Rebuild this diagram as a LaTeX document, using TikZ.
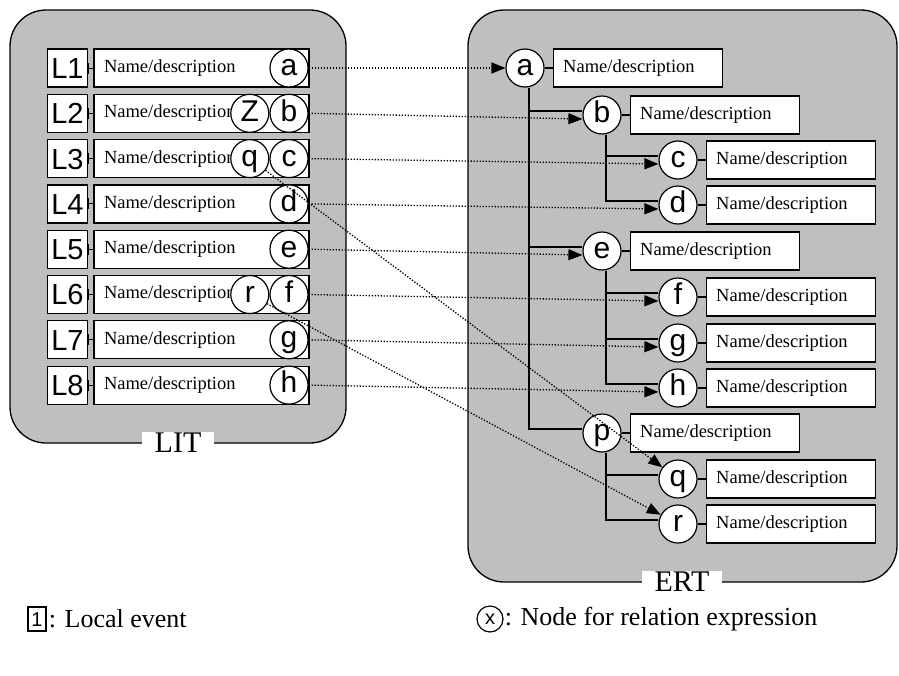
\documentclass[tikz,border=0pt]{standalone}
\usepackage{fontspec}
\setmainfont{Liberation Serif}
\newfontfamily\arialfont{Liberation Sans}
\usetikzlibrary{arrows.meta,positioning}

\begin{document}
\begin{tikzpicture}[
                x=1pt, y=-1pt,
                >={Triangle[length=14pt,width=11pt]},
                panel/.style={draw, line width=1.3pt, fill=black!25, rounded corners=36pt},
                paneltitle/.style={fill=white, inner xsep=13pt, inner ysep=1pt,
                    font=\fontsize{30}{30}\selectfont},
                evbox/.style={draw, line width=1.2pt, fill=white, inner sep=0pt,
                    minimum width=40pt, minimum height=38pt,
                    text height=20.8pt, text depth=0pt,
                    font=\arialfont\fontsize{29}{29}\selectfont},
                descbox/.style={draw, line width=1.2pt, fill=white, inner ysep=0pt,
                    inner xsep=10pt, minimum height=38pt, align=left,
                    font=\fontsize{18.5}{18.5}\selectfont},
                relnode/.style={circle, draw, line width=1.2pt, fill=white, inner sep=0pt,
                    minimum size=38pt, text height=15.6pt, text depth=0pt,
                    font=\arialfont\fontsize{30}{30}\selectfont},
                tick/.style={{Bar[width=11pt]}-, line width=1pt},
                tree/.style={line width=1.2pt},
                link/.style={->, line width=1.3pt, dash pattern=on 1.3pt off 1.7pt}
            ]

            \useasboundingbox (0,0) rectangle (899,675);

            % the two panels
            \draw[panel] (10,10) rectangle (346,443);
            \draw[panel] (468,10) rectangle (897,582);
            \node[paneltitle] (lit) at (178,443) {LIT};
            \node[paneltitle] (ert) at (682,582) {ERT};

            % LIT rows
            \foreach \i/\rel in {1/a,2/b,3/c,4/d,5/e,6/f,7/g,8/h} {
                \pgfmathsetmacro\yy{68+45.3*(\i-1)}
                \node[evbox] (ev\i) at (67.5,\yy) {L\i};
                \node[descbox, text width=195pt] (dsc\i) at (201.5,\yy) {Name/description};
                \draw[tick] (ev\i.east) -- (dsc\i.west);
                \node[relnode] (l\rel) at (289,\yy) {\rel};
            }
            \node[relnode, left=0pt of lb] (lz) {Z};
            \node[relnode, left=0pt of lc] (lq) {q};
            \node[relnode, left=0pt of lf] (lr) {r};

            % ERT tree
            \foreach \rel/\xx/\yy in {a/525/68, b/602/115, c/678/160, d/678/205,
                e/602/251, f/678/297, g/678/343, h/678/388,
                p/602/433, q/678/479, r/678/524} {
                \node[relnode] (r\rel) at (\xx,\yy) {\rel};
                \node[descbox, text width=149pt, right=8pt of r\rel] (rd\rel) {Name/description};
                \draw[tree] (r\rel) -- (rd\rel);
            }
            \foreach \up/\kids in {a/{b,e,p}, b/{c,d}, e/{f,g,h}, p/{q,r}} {
                \foreach \kid in \kids {
                    \draw[tree] ([xshift=4pt]r\up.south) |- ([yshift=4pt]r\kid.west);
                }
            }

            % LIT -> ERT
            \foreach \rel/\dy in {a/0, b/4, c/4, d/4, e/4, f/4, g/4, h/4} {
                \draw[link] (l\rel.east) -- ([yshift=-\dy pt]r\rel.west);
            }
            \draw[link] (lq) -- (rq);
            \draw[link] (lr) -- (rr);

            % legend
            \node[evbox, minimum width=18pt, minimum height=24pt, text height=14.3pt,
                font=\arialfont\fontsize{20}{20}\selectfont] (keyev) at (37,619) {1};
            \node[anchor=west, inner sep=2pt, font=\fontsize{26}{26}\selectfont]
                (keyevtxt) at (keyev.east) {: Local event};
            \node[relnode, minimum size=26pt, text height=10.4pt,
                font=\arialfont\fontsize{20}{20}\selectfont] (keyrel) at (490,619) {x};
            \node[anchor=west, inner sep=1pt, font=\fontsize{26}{26}\selectfont]
                (keyreltxt) at (keyrel.east) {: Node for relation expression};

        \end{tikzpicture}
\end{document}
